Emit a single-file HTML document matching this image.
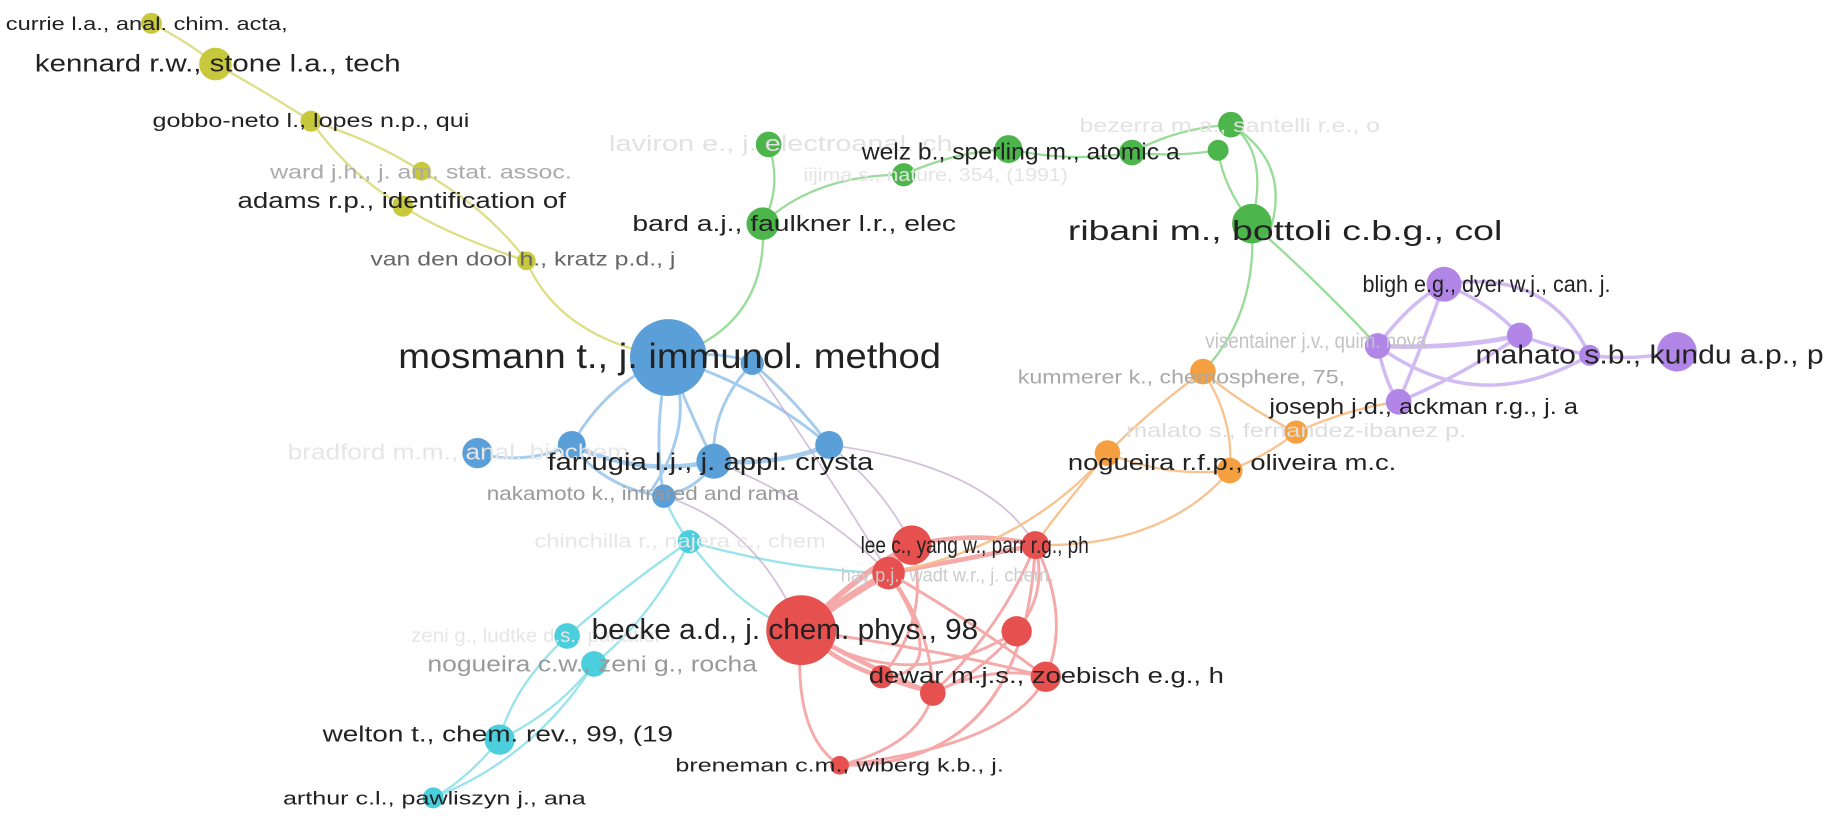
<!DOCTYPE html>
<html><head><meta charset="utf-8"><style>
html,body{margin:0;padding:0;background:#fff;width:1826px;height:820px;overflow:hidden}
svg text{font-family:"Liberation Sans",sans-serif;dominant-baseline:central}
</style></head><body>
<svg width="1826" height="820" viewBox="0 0 1568 704" preserveAspectRatio="none" xmlns="http://www.w3.org/2000/svg">
<g fill="none" stroke-linecap="round">
<g stroke="#d6d66a" stroke-width="2" opacity="0.8">
<path d="M130 20 Q160 35 185 55"/>
<path d="M185 55 Q230 80 267 104"/>
<path d="M267 104 Q320 120 362 147"/>
<path d="M267 104 Q300 150 346 177"/>
<path d="M362 147 Q420 180 452 224"/>
<path d="M346 177 Q380 200 452 224"/>
<path d="M452 224 Q480 290 574 307"/>
</g>
<g stroke="#8fd88f" stroke-width="2" opacity="0.9">
<path d="M660 124 Q672 160 655 192"/>
<path d="M655 192 Q700 150 776 150"/>
<path d="M776 150 Q820 130 866 128"/>
<path d="M866 128 Q920 140 972 131"/>
<path d="M972 131 Q1010 110 1057 107"/>
<path d="M972 131 Q1010 135 1046 129"/>
<path d="M1057 107 Q1090 130 1075 192"/>
<path d="M1046 129 Q1050 160 1075 192"/>
<path d="M1057 107 Q1110 140 1090 200"/>
<path d="M655 192 Q660 280 574 307"/>
<path d="M1075 192 Q1080 270 1033 319"/>
<path d="M1075 192 Q1130 240 1183 297"/>
</g>
<g stroke="#9cc6ec" stroke-width="2.5" opacity="0.9">
<path d="M574 307 Q520 330 491 382"/>
<path d="M574 307 Q590 350 613 396"/>
<path d="M574 307 Q560 370 570 426"/>
<path d="M574 307 Q620 300 646 312"/>
<path d="M646 312 Q680 340 712 382"/>
<path d="M646 312 Q610 350 613 396"/>
<path d="M574 307 Q650 330 712 382"/>
<path d="M410 389 Q450 400 491 382"/>
<path d="M491 382 Q550 410 613 396" stroke-width="4"/>
<path d="M613 396 Q670 400 712 382" stroke-width="4"/>
<path d="M491 382 Q520 420 570 426"/>
<path d="M613 396 Q600 420 570 426"/>
<path d="M574 307 Q600 360 560 420"/>
</g>
<g stroke="#8fe0ea" stroke-width="2" opacity="0.9">
<path d="M570 426 Q580 450 592 465"/>
<path d="M592 465 Q540 500 487 546"/>
<path d="M592 465 Q560 530 510 570"/>
<path d="M487 546 Q440 590 429 635"/>
<path d="M510 570 Q480 610 429 635"/>
<path d="M429 635 Q400 670 372 685"/>
<path d="M510 570 Q460 650 372 685"/>
<path d="M592 465 Q640 530 688 541"/>
<path d="M592 465 Q680 490 763 492"/>
</g>
<g stroke="#c0a8c8" stroke-width="1.5" opacity="0.7">
<path d="M712 382 Q850 400 889 468"/>
<path d="M712 382 Q760 420 783 468"/>
<path d="M613 396 Q700 430 763 492"/>
<path d="M570 426 Q650 450 688 541"/>
<path d="M646 312 Q720 420 763 492"/>
</g>
<g stroke="#f4a0a0" stroke-width="2.5" opacity="0.9">
<path d="M688 541 Q740 490 783 468" stroke-width="5"/>
<path d="M688 541 Q730 510 763 492" stroke-width="6"/>
<path d="M783 468 Q840 455 889 468" stroke-width="4"/>
<path d="M763 492 Q830 480 889 468" stroke-width="4"/>
<path d="M688 541 Q780 600 873 542"/>
<path d="M688 541 Q720 570 757 581" stroke-width="4"/>
<path d="M688 541 Q760 580 801 595" stroke-width="4"/>
<path d="M688 541 Q820 560 898 581"/>
<path d="M688 541 Q680 630 721 657"/>
<path d="M763 492 Q800 540 801 595"/>
<path d="M763 492 Q830 530 898 581"/>
<path d="M783 468 Q800 530 757 581"/>
<path d="M889 468 Q900 510 873 542"/>
<path d="M889 468 Q860 540 801 595"/>
<path d="M889 468 Q920 530 898 581"/>
<path d="M873 542 Q840 580 801 595"/>
<path d="M757 581 Q780 590 801 595"/>
<path d="M801 595 Q850 570 898 581"/>
<path d="M721 657 Q790 640 801 595"/>
<path d="M721 657 Q880 660 889 468"/>
<path d="M898 581 Q870 640 721 657"/>
<path d="M763 492 Q820 580 757 581"/>
</g>
<g stroke="#f8c08a" stroke-width="2" opacity="0.95">
<path d="M1033 319 Q990 350 951 389"/>
<path d="M1033 319 Q1070 350 1113 371"/>
<path d="M1033 319 Q1060 360 1056 404"/>
<path d="M951 389 Q1000 410 1056 404"/>
<path d="M1056 404 Q1090 390 1113 371"/>
<path d="M951 389 Q900 450 889 468"/>
<path d="M1056 404 Q1000 470 889 468"/>
<path d="M951 389 Q880 470 763 492"/>
<path d="M1113 371 Q1160 350 1201 345"/>
</g>
<g stroke="#d0b8f2" stroke-width="3" opacity="0.95">
<path d="M1183 297 Q1210 260 1240 244"/>
<path d="M1240 244 Q1280 260 1305 288"/>
<path d="M1183 297 Q1250 300 1305 288" stroke-width="4"/>
<path d="M1183 297 Q1190 330 1201 345"/>
<path d="M1240 244 Q1220 300 1201 345"/>
<path d="M1305 288 Q1260 320 1201 345"/>
<path d="M1305 288 Q1340 300 1365 305"/>
<path d="M1365 305 Q1400 310 1440 302"/>
<path d="M1240 244 Q1330 230 1365 305"/>
<path d="M1183 297 Q1270 360 1365 305"/>
</g>
</g>
<g>
<g fill="#c8c83c">
<circle cx="130" cy="20" r="9"/><circle cx="185" cy="55" r="14"/><circle cx="267" cy="104" r="9"/>
<circle cx="362" cy="147" r="8"/><circle cx="346" cy="177" r="9"/><circle cx="452" cy="224" r="8"/>
</g>
<g fill="#4cb64c">
<circle cx="660" cy="124" r="11"/><circle cx="866" cy="128" r="12"/><circle cx="776" cy="150" r="10"/>
<circle cx="655" cy="192" r="14"/><circle cx="972" cy="131" r="11"/><circle cx="1057" cy="107" r="11"/>
<circle cx="1046" cy="129" r="9"/><circle cx="1075" cy="192" r="17"/>
</g>
<g fill="#5b9fd8">
<circle cx="574" cy="307" r="33"/><circle cx="646" cy="312" r="10"/><circle cx="410" cy="389" r="13"/>
<circle cx="491" cy="382" r="12"/><circle cx="613" cy="396" r="15"/><circle cx="712" cy="382" r="12"/>
<circle cx="570" cy="426" r="10"/>
</g>
<g fill="#4ccfdc">
<circle cx="592" cy="465" r="10"/><circle cx="487" cy="546" r="11"/><circle cx="510" cy="570" r="11"/>
<circle cx="429" cy="635" r="13"/><circle cx="372" cy="685" r="9"/>
</g>
<g fill="#e6504e">
<circle cx="688" cy="541" r="30"/><circle cx="783" cy="468" r="17"/><circle cx="763" cy="492" r="14"/>
<circle cx="889" cy="468" r="12"/><circle cx="873" cy="542" r="13"/><circle cx="757" cy="581" r="10"/>
<circle cx="801" cy="595" r="11"/><circle cx="898" cy="581" r="13"/><circle cx="721" cy="657" r="8"/>
</g>
<g fill="#f5a040">
<circle cx="1033" cy="319" r="11"/><circle cx="951" cy="389" r="11"/><circle cx="1113" cy="371" r="10"/>
<circle cx="1056" cy="404" r="11"/>
</g>
<g fill="#b186e6">
<circle cx="1240" cy="244" r="15"/><circle cx="1183" cy="297" r="11"/><circle cx="1305" cy="288" r="11"/>
<circle cx="1201" cy="345" r="11"/><circle cx="1440" cy="302" r="17"/><circle cx="1365" cy="305" r="9"/>
</g>
</g>
<g>
<text x="523" y="123" font-size="19" fill="#e2e2e2" textLength="295" lengthAdjust="spacingAndGlyphs">laviron e., j. electroanal. ch</text>
<text x="690" y="150" font-size="16" fill="#e4e4e4" textLength="227" lengthAdjust="spacingAndGlyphs">iijima s., nature, 354, (1991)</text>
<text x="927" y="108" font-size="17" fill="#e2e2e2" textLength="258" lengthAdjust="spacingAndGlyphs">bezerra m.a., santelli r.e., o</text>
<text x="247" y="388" font-size="19" fill="#e6e6e6" textLength="293" lengthAdjust="spacingAndGlyphs">bradford m.m., anal. biochem</text>
<text x="459" y="465" font-size="17" fill="#e6e6e6" textLength="250" lengthAdjust="spacingAndGlyphs">chinchilla r., najera c., chem</text>
<text x="353" y="546" font-size="17" fill="#e6e6e6" textLength="215" lengthAdjust="spacingAndGlyphs">zeni g., ludtke d.s., panatier</text>
<text x="967" y="370" font-size="17" fill="#dedede" textLength="292" lengthAdjust="spacingAndGlyphs">malato s., fernandez-ibanez p.</text>
<text x="1035" y="293" font-size="18" fill="#c4c4c4" textLength="190" lengthAdjust="spacingAndGlyphs">visentainer j.v., quim. nova</text>
<text x="722" y="494" font-size="17" fill="#cccccc" textLength="183" lengthAdjust="spacingAndGlyphs">hay p.j., wadt w.r., j. chem.</text>
<text x="232" y="148" font-size="17" fill="#aaaaaa" textLength="259" lengthAdjust="spacingAndGlyphs">ward j.h., j. am. stat. assoc.</text>
<text x="874" y="324" font-size="17" fill="#a8a8a8" textLength="281" lengthAdjust="spacingAndGlyphs">kummerer k., chemosphere, 75,</text>
<text x="418" y="424" font-size="17" fill="#999" textLength="268" lengthAdjust="spacingAndGlyphs">nakamoto k., infrared and rama</text>
<text x="367" y="570" font-size="19" fill="#999" textLength="283" lengthAdjust="spacingAndGlyphs">nogueira c.w., zeni g., rocha</text>
<text x="318" y="223" font-size="17" fill="#666" textLength="262" lengthAdjust="spacingAndGlyphs">van den dool h., kratz p.d., j</text>

<text x="5" y="20" font-size="16" fill="#222" textLength="242" lengthAdjust="spacingAndGlyphs">currie l.a., anal. chim. acta,</text>
<text x="30" y="55" font-size="21" fill="#222" textLength="314" lengthAdjust="spacingAndGlyphs">kennard r.w., stone l.a., tech</text>
<text x="131" y="104" font-size="17" fill="#222" textLength="272" lengthAdjust="spacingAndGlyphs">gobbo-neto l., lopes n.p., qui</text>
<text x="204" y="172" font-size="19" fill="#222" textLength="282" lengthAdjust="spacingAndGlyphs">adams r.p., identification of</text>
<text x="740" y="130" font-size="20" fill="#222" textLength="273" lengthAdjust="spacingAndGlyphs">welz b., sperling m., atomic a</text>
<text x="543" y="192" font-size="19" fill="#222" textLength="278" lengthAdjust="spacingAndGlyphs">bard a.j., faulkner l.r., elec</text>
<text x="917" y="198" font-size="24" fill="#222" textLength="373" lengthAdjust="spacingAndGlyphs">ribani m., bottoli c.b.g., col</text>
<text x="1170" y="244" font-size="20" fill="#222" textLength="213" lengthAdjust="spacingAndGlyphs">bligh e.g., dyer w.j., can. j.</text>
<text x="342" y="306" font-size="30" fill="#222" textLength="466" lengthAdjust="spacingAndGlyphs">mosmann t., j. immunol. method</text>
<text x="1267" y="305" font-size="22" fill="#222" textLength="299" lengthAdjust="spacingAndGlyphs">mahato s.b., kundu a.p., p</text>
<text x="1090" y="349" font-size="19" fill="#222" textLength="265" lengthAdjust="spacingAndGlyphs">joseph j.d., ackman r.g., j. a</text>
<text x="470" y="397" font-size="21" fill="#222" textLength="280" lengthAdjust="spacingAndGlyphs">farrugia l.j., j. appl. crysta</text>
<text x="917" y="397" font-size="19" fill="#222" textLength="282" lengthAdjust="spacingAndGlyphs">nogueira r.f.p., oliveira m.c.</text>
<text x="739" y="468" font-size="20" fill="#222" textLength="196" lengthAdjust="spacingAndGlyphs">lee c., yang w., parr r.g., ph</text>
<text x="508" y="541" font-size="25" fill="#222" textLength="332" lengthAdjust="spacingAndGlyphs">becke a.d., j. chem. phys., 98</text>
<text x="746" y="580" font-size="19" fill="#222" textLength="305" lengthAdjust="spacingAndGlyphs">dewar m.j.s., zoebisch e.g., h</text>
<text x="277" y="630" font-size="19" fill="#222" textLength="301" lengthAdjust="spacingAndGlyphs">welton t., chem. rev., 99, (19</text>
<text x="580" y="657" font-size="16" fill="#222" textLength="282" lengthAdjust="spacingAndGlyphs">breneman c.m., wiberg k.b., j.</text>
<text x="243" y="685" font-size="16" fill="#222" textLength="260" lengthAdjust="spacingAndGlyphs">arthur c.l., pawliszyn j., ana</text>
</g>
</svg>
</body></html>
